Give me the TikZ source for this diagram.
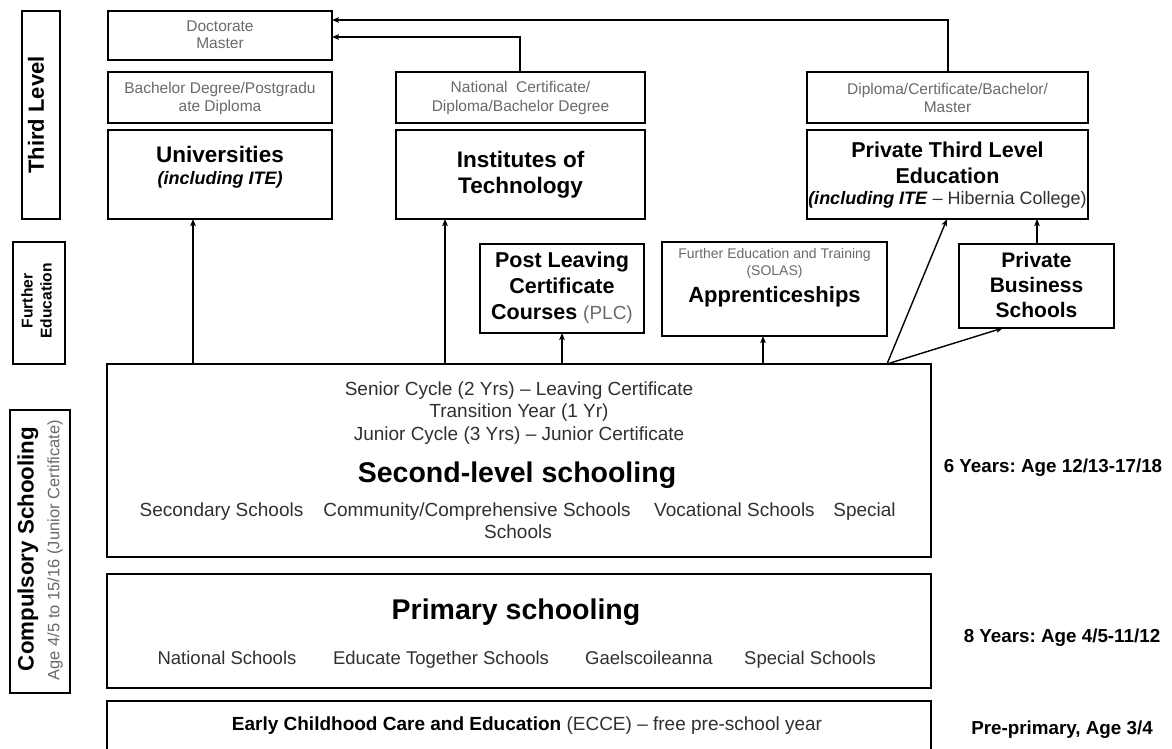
\documentclass[tikz,border=0pt]{standalone}
\usepackage{fontspec}
\setmainfont{Liberation Sans}
\usetikzlibrary{arrows.meta}
\definecolor{labelgray}{HTML}{6A6A6A}
\definecolor{bodygray}{HTML}{303030}
\frenchspacing

\begin{document}
\begin{tikzpicture}[x=1pt,y=-1pt,
  box/.style={draw=black, line width=1.8pt, rectangle, anchor=north west,
              inner sep=0pt, outer sep=0pt},
  arr/.style={line width=1.4pt, -{Stealth[length=7pt,width=5.5pt,inset=1.5pt]}},
  small/.style={font=\fontsize{15.5}{18}\selectfont, text=labelgray, align=center},
  tiny/.style={font=\fontsize{14}{17}\selectfont, text=labelgray, align=center},
  title/.style={font=\bfseries\fontsize{22.5}{26}\selectfont, align=center},
  bigtitle/.style={font=\bfseries\fontsize{28.5}{32}\selectfont},
  body/.style={font=\fontsize{19}{22.5}\selectfont, text=bodygray, align=center},
  oneline/.style={text height=13.6pt, text depth=4pt, inner ysep=0pt},
  side/.style={font=\bfseries\fontsize{18.8}{21}\selectfont, oneline},
  vlabel/.style={rotate=90, align=center},
]
\clip (0,0) rectangle (1172,749);
\fill[white] (0,0) rectangle (1172,749);

% ---- level labels on the left
\node[box, minimum width=38pt, minimum height=208pt] (third) at (22,11) {};
\node[box, minimum width=52pt, minimum height=122pt] (furtherlab) at (13,242) {};
\node[box, minimum width=60pt, minimum height=283pt] (compul) at (10,410) {};
\node[vlabel, font=\bfseries\fontsize{22}{24}\selectfont] (thirdT) at (36,115) {Third Level};
\node[vlabel, font=\bfseries\fontsize{15.6}{19}\selectfont] (furtherT) at (36.5,301) {Further\\Education};
\node[vlabel, font=\bfseries\fontsize{22.3}{24}\selectfont] (compT) at (28,549) {Compulsory Schooling};
\node[vlabel, font=\fontsize{16.5}{18}\selectfont, text=labelgray] (compS) at (55,550) {Age 4/5 to 15/16 (Junior Certificate)};

% ---- third level
\node[box, minimum width=224pt, minimum height=49pt] (doc) at (108,11) {};
\node[box, minimum width=224pt, minimum height=51pt] (bach) at (108,72) {};
\node[box, minimum width=224pt, minimum height=89pt] (uni) at (108,130) {};
\node[box, minimum width=249pt, minimum height=51pt] (natcert) at (396,72) {};
\node[box, minimum width=249pt, minimum height=89pt] (iot) at (396,130) {};
\node[box, minimum width=281pt, minimum height=51pt] (dipl) at (807,72) {};
\node[box, minimum width=281pt, minimum height=89pt] (priv) at (807,130) {};

\node[small, font=\fontsize{15.5}{17}\selectfont] (docT) at (220,34.5) {Doctorate\\Master};
\node[small] (bachT) at (220,98) {Bachelor Degree/Postgradu\\ate Diploma};
\node[title] (uniT) at (220,154) {Universities};
\node[font=\bfseries\itshape\fontsize{18}{20}\selectfont] (uniS) at (220,180) {(including ITE)};
\node[small, font=\fontsize{15.5}{19}\selectfont] (natT) at (520.5,97.5) {National\ \ Certificate/\\Diploma/Bachelor Degree};
\node[title] (iotT) at (520.5,175) {Institutes of\\Technology};
\node[small] (diplT) at (947.5,98) {Diploma/Certificate/Bachelor/\\Master};
\node[title, font=\bfseries\fontsize{21.5}{26}\selectfont] (privT) at (947.5,163) {Private Third Level\\Education};
\node[font=\fontsize{18}{20}\selectfont, text=bodygray] (privS) at (947.5,200)
  {\textcolor{black}{\textbf{\textit{(including ITE}}} \textendash{} Hibernia College)};

% ---- further education
\node[box, minimum width=164pt, minimum height=89pt] (plc) at (480,244) {};
\node[box, minimum width=225pt, minimum height=94pt] (appr) at (662,242) {};
\node[box, minimum width=155pt, minimum height=84pt] (pbs) at (959,244) {};
\node[font=\bfseries\fontsize{21.5}{26}\selectfont, align=center] (plcT) at (562,288)
  {Post Leaving\\Certificate\\Courses {\mdseries\fontsize{19}{26}\selectfont\color{labelgray}(PLC)}};
\node[tiny] (apprS) at (774.5,263.5) {Further Education and Training\\(SOLAS)};
\node[title, font=\bfseries\fontsize{22}{26}\selectfont] (apprT) at (774.5,297) {Apprenticeships};
\node[title, font=\bfseries\fontsize{21}{25}\selectfont] (pbsT) at (1036.5,285) {Private\\Business\\Schools};

% ---- compulsory and pre-primary
\node[box, minimum width=824pt, minimum height=193pt] (second) at (107,364) {};
\node[box, minimum width=824pt, minimum height=114pt] (primary) at (107,574) {};
\node[box, minimum width=824pt, minimum height=70pt] (ecce) at (107,701) {};

\node[body] (secT) at (519,413) {Senior Cycle (2 Yrs) \textendash{} Leaving Certificate\\Transition Year (1 Yr)\\Junior Cycle (3 Yrs) \textendash{} Junior Certificate};
\node[bigtitle] (secTitle) at (517,475) {Second-level schooling};
\node[body, oneline] (sA) at (221.5,512) {Secondary Schools};
\node[body, oneline] (sB) at (477,512) {Community/Comprehensive Schools};
\node[body, oneline] (sC) at (734.5,512) {Vocational Schools};
\node[body, oneline] (sD) at (864.5,512) {Special};
\node[body, oneline] (sE) at (518,534) {Schools};

\node[bigtitle] (primTitle) at (516,612) {Primary schooling};
\node[body, oneline, font=\fontsize{18.5}{22}\selectfont] (pA) at (227,660) {National Schools};
\node[body, oneline, font=\fontsize{18.5}{22}\selectfont] (pB) at (441,660) {Educate Together Schools};
\node[body, oneline, font=\fontsize{18.5}{22}\selectfont] (pC) at (649,660) {Gaelscoileanna};
\node[body, oneline, font=\fontsize{18.5}{22}\selectfont] (pD) at (810,660) {Special Schools};

\node[body, oneline] (eccT) at (527,726) {\textcolor{black}{\textbf{Early Childhood Care and Education}} (ECCE) \textendash{} free pre-school year};

\node[side] (r1) at (1053,468) {6 Years: Age 12/13-17/18};
\node[side] (r2) at (1062,638) {8 Years: Age 4/5-11/12};
\node[side] (r3) at (1062,730) {Pre-primary, Age 3/4};

% ---- connectors
\coordinate (xu) at (193,0);
\coordinate (xi) at (445,0);
\coordinate (xp) at (562,0);
\coordinate (xa) at (763,0);
\coordinate (xq) at (947,0);
\coordinate (xr) at (1003,0);
\coordinate (xb) at (1037,0);
\coordinate (xn) at (520,0);
\coordinate (xd) at (948,0);
\coordinate (yl) at (0,37);
\coordinate (yh) at (0,20);
\coordinate (fork) at (887,364);

\draw[arr] (second.north -| xu) -- (uni.south -| xu);
\draw[arr] (second.north -| xi) -- (iot.south -| xi);
\draw[arr] (second.north -| xp) -- (plc.south -| xp);
\draw[arr] (second.north -| xa) -- (appr.south -| xa);
\draw[arr] (fork) -- (priv.south -| xq);
\draw[arr] (fork) -- (pbs.south -| xr);
\draw[arr] (pbs.north -| xb) -- (priv.south -| xb);
\draw[arr] (natcert.north -| xn) -- (xn |- yl) -- (doc.east |- yl);
\draw[arr] (dipl.north -| xd) -- (xd |- yh) -- (doc.east |- yh);
\end{tikzpicture}
\end{document}
